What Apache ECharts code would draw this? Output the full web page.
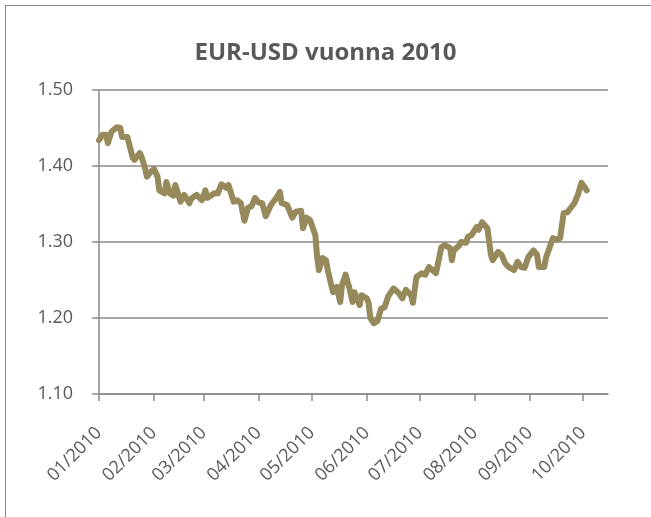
<!DOCTYPE html>
<html>
<head>
<meta charset="utf-8">
<script src="https://cdn.jsdelivr.net/npm/echarts@6/dist/echarts.min.js"></script>
<style>
html,body{margin:0;padding:0;background:#fff;overflow:hidden;width:651px;height:517px}
#frame{position:absolute;left:5px;top:5px;width:700px;height:600px;border:1.5px solid #8c8c8c;box-sizing:border-box}
#chart{position:absolute;left:0;top:0;width:651px;height:517px}
</style>
</head>
<body>
<div id="frame"></div>
<div id="chart"></div>
<script>
const titleText = 'EUR-USD vuonna 2010';
const tickDates = ['2010-01-01','2010-02-01','2010-03-01','2010-04-01','2010-05-01','2010-06-01','2010-07-01','2010-08-01','2010-09-01','2010-10-01'];
const tickLabels = ['01/2010','02/2010','03/2010','04/2010','05/2010','06/2010','07/2010','08/2010','09/2010','10/2010'];
const yTicks = [1.10, 1.20, 1.30, 1.40, 1.50];
const dates = [
'2010-01-01','2010-01-03','2010-01-05','2010-01-06','2010-01-08','2010-01-11','2010-01-13','2010-01-14','2010-01-17','2010-01-18','2010-01-20','2010-01-21','2010-01-24','2010-01-25','2010-01-27','2010-01-28','2010-01-30',
'2010-02-01','2010-02-03','2010-02-04','2010-02-07','2010-02-08','2010-02-10','2010-02-12','2010-02-13','2010-02-16','2010-02-18','2010-02-21','2010-02-22','2010-02-25','2010-02-28',
'2010-03-02','2010-03-03','2010-03-07','2010-03-09','2010-03-11','2010-03-14','2010-03-15','2010-03-18','2010-03-20','2010-03-22','2010-03-24','2010-03-26','2010-03-28','2010-03-30',
'2010-04-01','2010-04-03','2010-04-05','2010-04-08','2010-04-11','2010-04-13','2010-04-14','2010-04-17','2010-04-20','2010-04-22','2010-04-25','2010-04-26','2010-04-28','2010-04-30',
'2010-05-03','2010-05-04','2010-05-05','2010-05-07','2010-05-09','2010-05-10','2010-05-12','2010-05-13','2010-05-15','2010-05-17','2010-05-18','2010-05-20','2010-05-22','2010-05-24','2010-05-25','2010-05-26','2010-05-28','2010-05-29',
'2010-06-01','2010-06-02','2010-06-03','2010-06-05','2010-06-07','2010-06-09','2010-06-11','2010-06-13','2010-06-16','2010-06-19','2010-06-21','2010-06-23','2010-06-26','2010-06-27','2010-06-29',
'2010-07-02','2010-07-04','2010-07-06','2010-07-08','2010-07-10','2010-07-11','2010-07-13','2010-07-15','2010-07-18','2010-07-19','2010-07-20','2010-07-23','2010-07-24','2010-07-27','2010-07-28','2010-07-30',
'2010-08-02','2010-08-03','2010-08-05','2010-08-06','2010-08-08','2010-08-10','2010-08-11','2010-08-14','2010-08-16','2010-08-18','2010-08-20','2010-08-23','2010-08-25','2010-08-27','2010-08-29','2010-08-31',
'2010-09-03','2010-09-05','2010-09-06','2010-09-09','2010-09-10','2010-09-13','2010-09-14','2010-09-16','2010-09-18','2010-09-20','2010-09-22','2010-09-23','2010-09-24','2010-09-26','2010-09-28','2010-09-30',
'2010-10-01','2010-10-03'
];
const eurUsd = [
1.434,1.441,1.441,1.430,1.445,1.451,1.450,1.438,1.438,1.436,1.411,1.408,1.417,1.412,1.397,1.386,1.392,
1.396,1.386,1.368,1.364,1.379,1.364,1.361,1.375,1.353,1.362,1.351,1.357,1.362,1.355,
1.368,1.358,1.364,1.364,1.376,1.371,1.375,1.353,1.355,1.351,1.328,1.345,1.347,1.358,
1.352,1.351,1.334,1.349,1.358,1.366,1.351,1.349,1.332,1.340,1.341,1.318,1.332,1.329,
1.309,1.280,1.263,1.279,1.276,1.263,1.243,1.234,1.241,1.221,1.243,1.257,1.241,1.221,1.234,1.228,1.217,1.230,
1.226,1.220,1.200,1.193,1.196,1.212,1.214,1.228,1.239,1.233,1.226,1.237,1.230,1.220,1.254,
1.259,1.257,1.267,1.263,1.259,1.270,1.293,1.296,1.292,1.276,1.289,1.295,1.300,1.299,1.307,1.309,
1.320,1.316,1.326,1.324,1.318,1.283,1.276,1.287,1.283,1.272,1.267,1.263,1.274,1.267,1.266,1.280,
1.289,1.283,1.267,1.267,1.279,1.299,1.305,1.303,1.305,1.338,1.339,1.342,1.345,1.351,1.362,1.378,
1.375,1.368
];
const xMin = '2010-01-01';
const xMax = '2010-10-15';

const DAY = 86400000;
const ts = s => Date.UTC(+s.slice(0, 4), +s.slice(5, 7) - 1, +s.slice(8, 10)) / DAY;
const tickDays = tickDates.map(ts);
const seriesData = dates.map((d, i) => [ts(d), eurUsd[i]]);
const FONT = '"Open Sans", "Noto Sans", sans-serif';
const TXT = '#595959';
const GRID = '#8a8a8a';

const chart = echarts.init(document.getElementById('chart'), null, {renderer: 'canvas'});
chart.setOption({
  animation: false,
  backgroundColor: 'transparent',
  title: {
    text: titleText,
    left: 'center',
    top: 36,
    textStyle: {fontFamily: FONT, fontSize: 24, fontWeight: 'bold', color: TXT}
  },
  grid: {left: 99, right: 43, top: 90, bottom: 123, containLabel: false},
  xAxis: {
    type: 'value',
    min: ts(xMin),
    max: ts(xMax),
    axisLine: {show: true, lineStyle: {color: GRID, width: 1.5}},
    axisTick: {show: true, length: 7, lineStyle: {color: GRID, width: 1.5}, customValues: tickDays},
    axisLabel: {
      customValues: tickDays,
      rotate: 45,
      margin: 36,
      fontFamily: FONT,
      fontSize: 18,
      color: TXT,
      formatter: function (v) {
        const i = tickDays.indexOf(v);
        return i >= 0 ? tickLabels[i] : '';
      }
    },
    splitLine: {show: false}
  },
  yAxis: {
    type: 'value',
    min: yTicks[0],
    max: yTicks[yTicks.length - 1],
    interval: 0.1,
    axisLine: {show: true, lineStyle: {color: GRID, width: 1.5}},
    axisTick: {show: true, length: 7, lineStyle: {color: GRID, width: 1.5}},
    axisLabel: {
      margin: 26,
      fontFamily: FONT,
      fontSize: 18,
      color: TXT,
      formatter: v => v.toFixed(2)
    },
    splitLine: {show: true, lineStyle: {color: GRID, width: 1.5}}
  },
  series: [{
    type: 'line',
    data: seriesData,
    showSymbol: false,
    smooth: false,
    lineStyle: {color: '#968A5C', width: 6, cap: 'round', join: 'round'}
  }]
});
</script>
</body>
</html>
